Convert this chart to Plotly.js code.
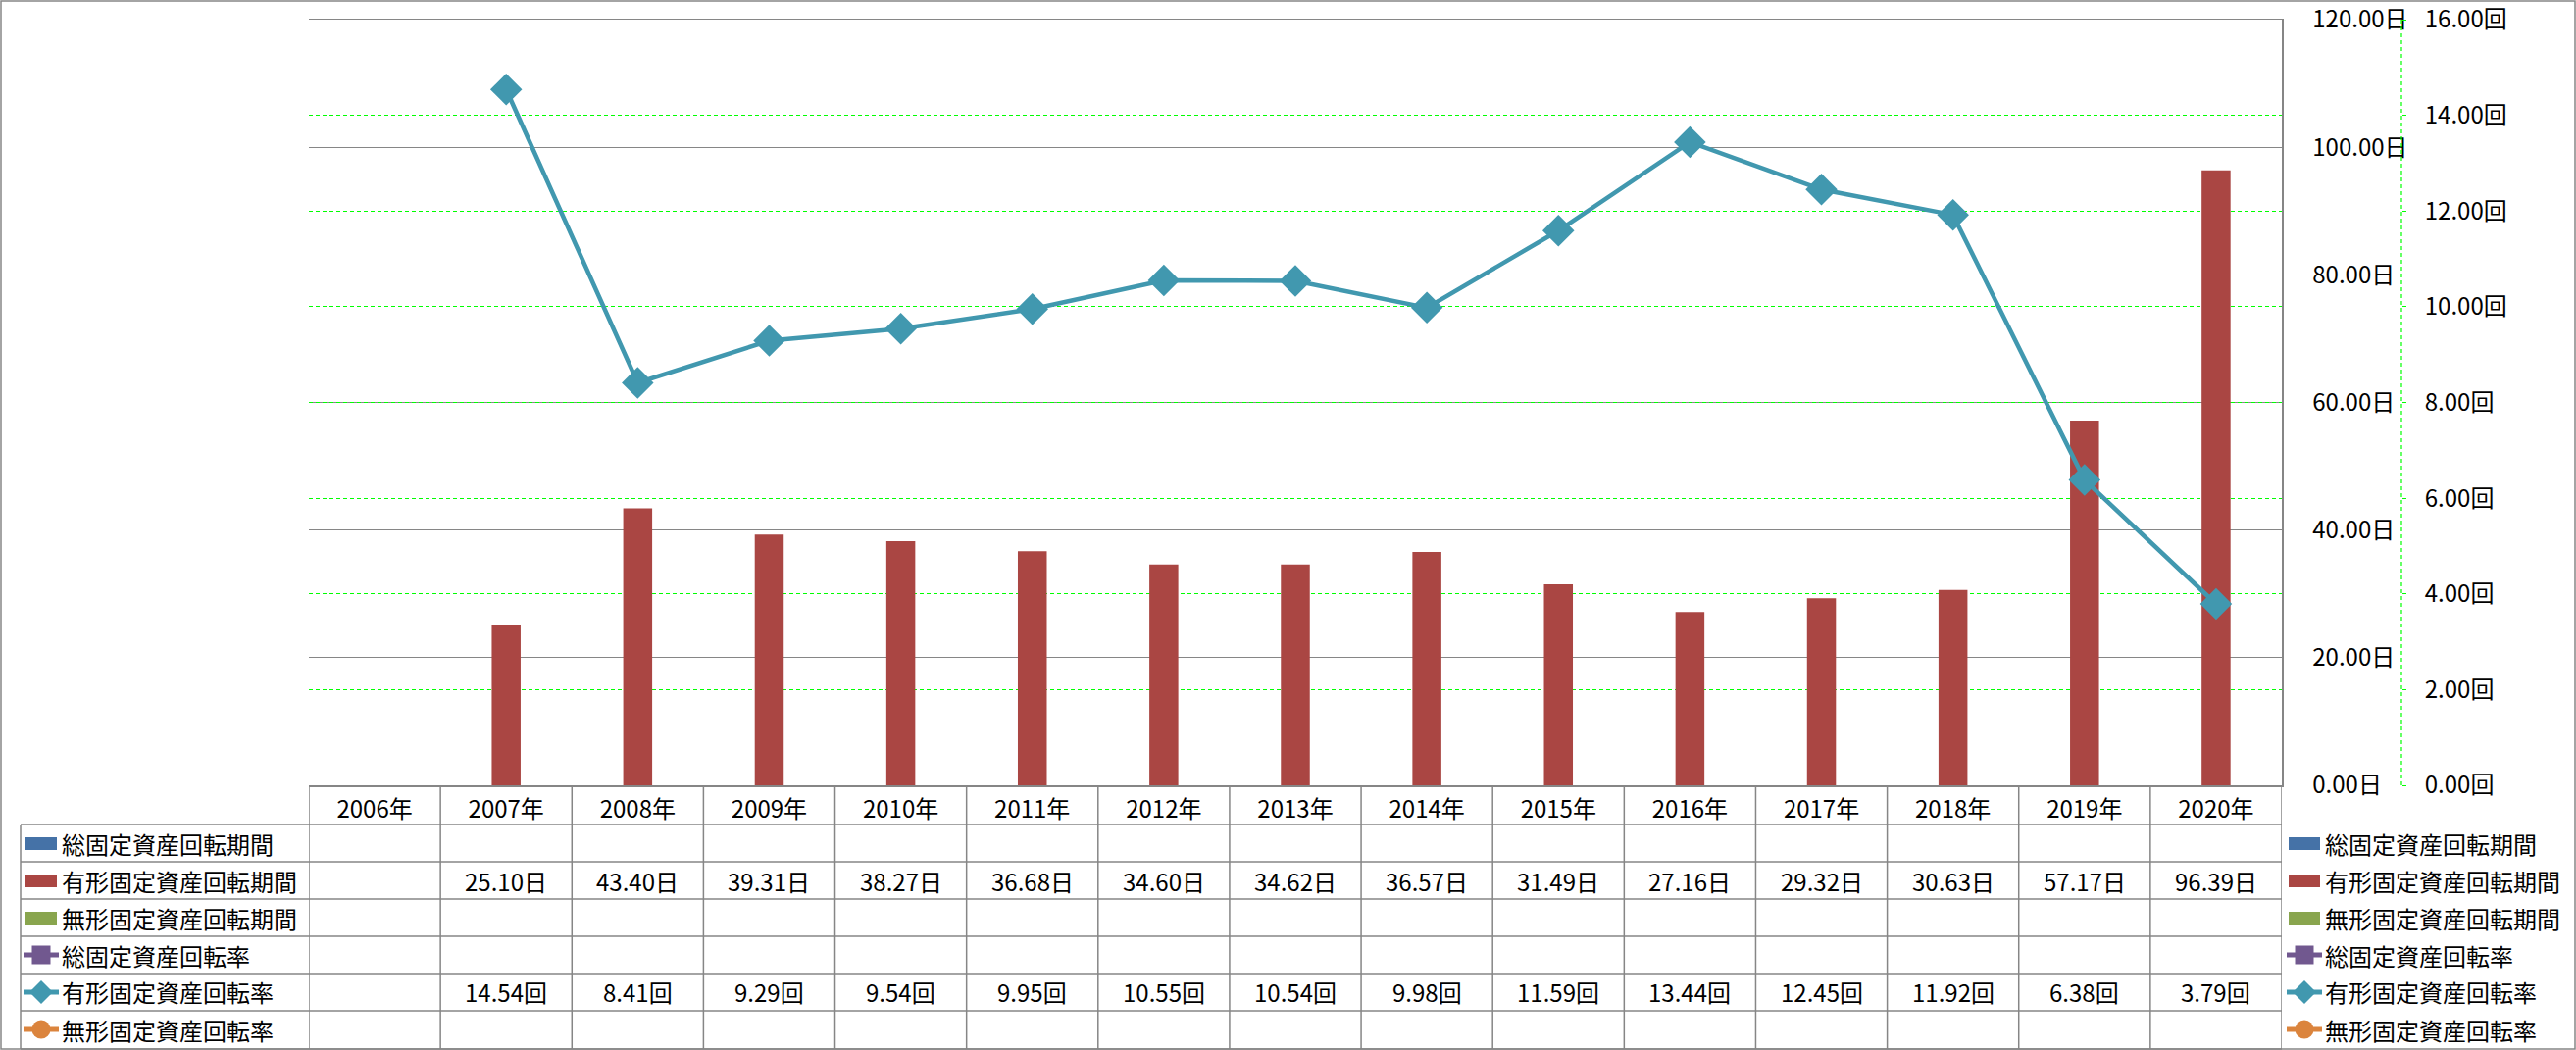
<!DOCTYPE html>
<html>
<head>
<meta charset="utf-8">
<script src="https://cdn.plot.ly/plotly-3.0.1.min.js"></script>
<style>
html,body{margin:0;padding:0;background:#fff;}
#chart{width:2627px;height:1071px;}
</style>
</head>
<body>
<div id="chart"></div>
<script>
// ---- data ----
const years = ['2006年','2007年','2008年','2009年','2010年','2011年','2012年','2013年','2014年','2015年','2016年','2017年','2018年','2019年','2020年'];
const soKikan    = [null,null,null,null,null,null,null,null,null,null,null,null,null,null,null];
const yukeiKikan = [null,25.10,43.40,39.31,38.27,36.68,34.60,34.62,36.57,31.49,27.16,29.32,30.63,57.17,96.39];
const mukeiKikan = [null,null,null,null,null,null,null,null,null,null,null,null,null,null,null];
const soRitsu    = [null,null,null,null,null,null,null,null,null,null,null,null,null,null,null];
const yukeiRitsu = [null,14.54,8.41,9.29,9.54,9.95,10.55,10.54,9.98,11.59,13.44,12.45,11.92,6.38,3.79];
const mukeiRitsu = [null,null,null,null,null,null,null,null,null,null,null,null,null,null,null];
const seriesNames = ['総固定資産回転期間','有形固定資産回転期間','無形固定資産回転期間','総固定資産回転率','有形固定資産回転率','無形固定資産回転率'];
const seriesValues = [soKikan, yukeiKikan, mukeiKikan, soRitsu, yukeiRitsu, mukeiRitsu];
const seriesUnits = ['日','日','日','回','回','回'];
const y1Ticks = [0,20,40,60,80,100,120];
const y2Ticks = [0,2,4,6,8,10,12,14,16];

// ---- styles ----
const W = 2627, H = 1071;
const FONT = '"Noto Sans CJK JP", "Noto Sans", sans-serif';
const FS = 24;
const GRAY = '#868686';
const GREEN = '#00FF00';
const seriesKinds = ['bar','bar','bar','line','line','line'];
const seriesColors = ['#4572A7','#AA4643','#89A54E','#71588F','#4198AF','#DB843D'];
const seriesSymbols = [null,null,null,'square','diamond','circle'];

const plotTop = 20, plotBottom = 801, plotLeft = 315, plotRight = 2327;
const X = px => px / W;
const Y = py => (plotBottom - py) / (plotBottom - plotTop);

const traces = [];
seriesNames.forEach((nm, k) => {
  if (seriesKinds[k] === 'bar') {
    traces.push({type:'bar', name:nm, x:years, y:seriesValues[k], yaxis:'y', xaxis:'x',
      marker:{color:seriesColors[k]}, width:0.22, showlegend:false, hoverinfo:'skip'});
  }
});
seriesNames.forEach((nm, k) => {
  if (seriesKinds[k] === 'line') {
    traces.push({type:'scatter', mode:'lines+markers', name:nm, x:years, y:seriesValues[k], yaxis:'y2', xaxis:'x',
      line:{color:seriesColors[k], width:4.5}, marker:{symbol:seriesSymbols[k], size:25, color:seriesColors[k]},
      showlegend:false, hoverinfo:'skip', cliponaxis:false});
  }
});

// ---- table & legends ----
const shapes = [];
const annotations = [];
const rowLines = [801, 841, 879, 917, 955, 993, 1031, 1070];
const rowCenters = [860, 898, 936, 974, 1012, 1050];
const lineStyle = {color:GRAY, width:1.5};

// outer border
shapes.push({type:'rect', xref:'paper', yref:'paper', x0:X(1), x1:X(2626), y0:Y(1070), y1:Y(1), line:lineStyle, layer:'below'});
// horizontal rows
for (let r = 1; r < rowLines.length; r++) {
  shapes.push({type:'line', xref:'paper', yref:'paper', x0:X(21), x1:X(plotRight), y0:Y(rowLines[r]), y1:Y(rowLines[r]), line:lineStyle});
}
// vertical: left of names column
shapes.push({type:'line', xref:'paper', yref:'paper', x0:X(21), x1:X(21), y0:Y(841), y1:Y(1070), line:lineStyle});
// category boundaries
for (let i = 0; i <= years.length; i++) {
  shapes.push({type:'line', xref:'x', yref:'paper', x0:i-0.5, x1:i-0.5, y0:Y(801), y1:Y(1070), line:lineStyle});
}
// secondary axis dashed line
shapes.push({type:'line', xref:'paper', yref:'paper', x0:X(2449), x1:X(2449), y0:0, y1:1, line:{color:GREEN, width:1.2, dash:'4px,3px'}});

function legendKey(k, x0, yc) {
  const c = seriesColors[k];
  if (seriesKinds[k] === 'bar') {
    shapes.push({type:'rect', xref:'paper', yref:'paper', x0:X(x0+2), x1:X(x0+34), y0:Y(yc+7), y1:Y(yc-6), fillcolor:c, line:{width:0}});
  } else {
    shapes.push({type:'line', xref:'paper', yref:'paper', x0:X(x0), x1:X(x0+36), y0:Y(yc), y1:Y(yc), line:{color:c, width:5}});
    const mx = x0 + 18, r = 9.5;
    if (seriesSymbols[k] === 'square') {
      shapes.push({type:'rect', xref:'paper', yref:'paper', x0:X(mx-r), x1:X(mx+r), y0:Y(yc+r), y1:Y(yc-r), fillcolor:c, line:{width:0}});
    } else if (seriesSymbols[k] === 'circle') {
      shapes.push({type:'circle', xref:'paper', yref:'paper', x0:X(mx-r), x1:X(mx+r), y0:Y(yc+r), y1:Y(yc-r), fillcolor:c, line:{width:0}});
    } else {
      const d = 12;
      shapes.push({type:'path', xref:'paper', yref:'paper',
        path:`M ${X(mx-d)} ${Y(yc)} L ${X(mx)} ${Y(yc-d)} L ${X(mx+d)} ${Y(yc)} L ${X(mx)} ${Y(yc+d)} Z`,
        fillcolor:c, line:{width:0}});
    }
  }
}

seriesNames.forEach((nm, k) => {
  const yc = rowCenters[k];
  legendKey(k, 24, yc);
  annotations.push({xref:'paper', yref:'paper', x:X(61), y:Y(yc), xanchor:'left', yanchor:'middle', text:nm,
    showarrow:false, font:{family:FONT, size:FS, color:'#000'}});
  legendKey(k, 2332, yc);
  annotations.push({xref:'paper', yref:'paper', x:X(2369), y:Y(yc), xanchor:'left', yanchor:'middle', text:nm,
    showarrow:false, font:{family:FONT, size:FS, color:'#000'}});
  seriesValues[k].forEach((v, i) => {
    if (v === null) return;
    annotations.push({xref:'x', yref:'paper', x:years[i], y:Y(yc), xanchor:'center', yanchor:'middle',
      text: v.toFixed(2) + seriesUnits[k], showarrow:false, font:{family:FONT, size:FS, color:'#000'}});
  });
});

const layout = {
  width: W, height: H,
  margin: {l:0, r:0, t:plotTop, b:H - plotBottom, pad:0},
  paper_bgcolor:'#fff', plot_bgcolor:'#fff',
  font: {family:FONT, size:FS, color:'#000'},
  showlegend:false,
  barmode:'overlay',
  xaxis: {type:'category', categoryorder:'array', categoryarray:years, range:[-0.5, years.length-0.5],
    domain:[X(plotLeft), X(plotRight)], showline:true, mirror:true, linecolor:GRAY, linewidth:1.5, showgrid:false,
    ticks:'', tickfont:{family:FONT, size:FS, color:'#000'}, ticklabelstandoff:3, zeroline:false, fixedrange:true},
  yaxis: {side:'right', range:[0,120.0001], tickmode:'array', tickvals:y1Ticks,
    ticktext:y1Ticks.map(v => v.toFixed(2) + '日'), ticklabeloverflow:'allow',
    showgrid:true, gridcolor:GRAY, gridwidth:1.2, showline:true, linecolor:GRAY, linewidth:1.5, zeroline:false,
    ticks:'', ticklabelstandoff:25, tickfont:{family:FONT, size:FS, color:'#000'}, fixedrange:true},
  yaxis2: {overlaying:'y', side:'right', anchor:'free', position:X(2449), range:[0,16.00001], tickmode:'array', tickvals:y2Ticks,
    ticktext:y2Ticks.map(v => v.toFixed(2) + '回'), ticklabeloverflow:'allow',
    showgrid:true, gridcolor:GREEN, griddash:'4px,3px', gridwidth:1.2,
    showline:false, zeroline:false, ticks:'outside', ticklen:4, tickcolor:GREEN, tickwidth:1,
    ticklabelstandoff:14, tickfont:{family:FONT, size:FS, color:'#000'}, fixedrange:true},
  shapes: shapes,
  annotations: annotations
};

Plotly.newPlot('chart', traces, layout, {staticPlot:true, displayModeBar:false});
</script>
</body>
</html>
